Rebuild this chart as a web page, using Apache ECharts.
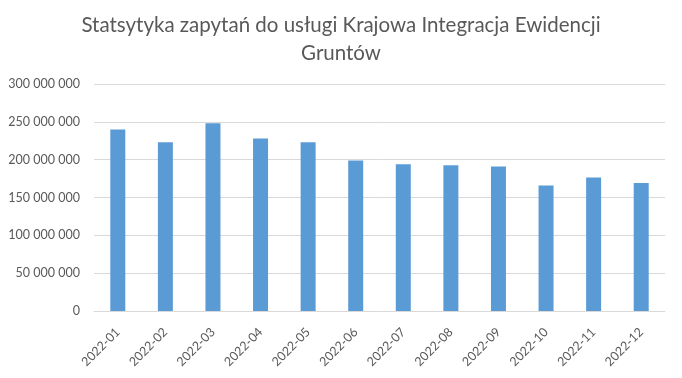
<!DOCTYPE html>
<html><head><meta charset="utf-8">
<script src="https://cdn.jsdelivr.net/npm/echarts@6/dist/echarts.min.js"></script>
<style>html,body{margin:0;padding:0;background:#fff}#c{width:682px;height:378px}</style>
</head><body><div id="c"></div>
<script>
const categories = ['2022-01','2022-02','2022-03','2022-04','2022-05','2022-06','2022-07','2022-08','2022-09','2022-10','2022-11','2022-12'];
const values = [240000000,223000000,248000000,228000000,223000000,199000000,194000000,192500000,191000000,166000000,176500000,169000000];
const titleText = 'Statsytyka zapytań do usługi Krajowa Integracja Ewidencji\nGruntów';

function fmt(v){ return String(v).replace(/\B(?=(\d{3})+(?!\d))/g,' '); }

const chart = echarts.init(document.getElementById('c'));
chart.setOption({
  animation:false,
  title:{text:titleText,left:'center',top:6,textStyle:{fontFamily:'Lato',fontSize:20.5,fontWeight:'normal',color:'#595959',lineHeight:28}},
  grid:{left:94,right:17,top:84,bottom:67},
  xAxis:{type:'category',data:categories,
    axisLine:{lineStyle:{color:'#d9d9d9'}},axisTick:{show:false},
    axisLabel:{rotate:45,margin:19,color:'#595959',fontFamily:'Lato',fontSize:12.5,interval:0}},
  yAxis:{type:'value',min:0,max:300000000,interval:50000000,
    axisLine:{show:false},axisTick:{show:false},
    splitLine:{lineStyle:{color:'#d9d9d9'}},
    axisLabel:{formatter:fmt,color:'#595959',fontFamily:'Lato',fontSize:12.5,margin:14}},
  series:[{type:'bar',data:values,barWidth:15,itemStyle:{color:'#5b9bd5'}}]
});
</script></body></html>
